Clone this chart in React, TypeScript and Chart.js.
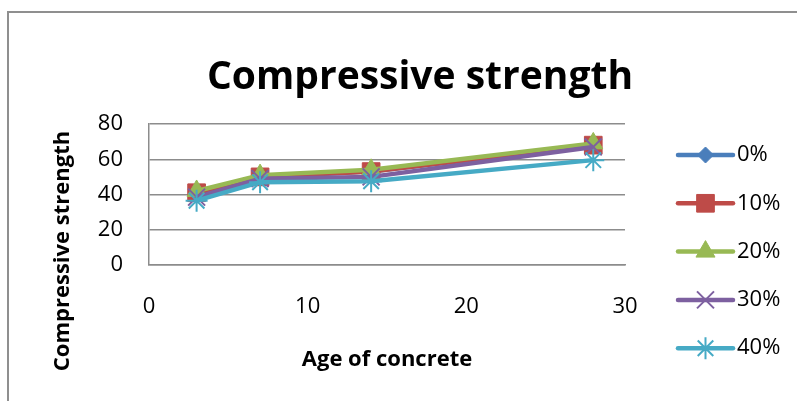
import React, { useEffect, useRef } from 'react';
import { Chart, registerables } from 'chart.js';
import { drawPoint } from 'chart.js/helpers';

Chart.register(...registerables);

// Age of concrete (days) and compressive strength per replacement level
const ageDays = [3, 7, 14, 28];
const strength0 = [40, 50, 53, 68];
const strength10 = [41, 50, 53, 68];
const strength20 = [42, 51, 54, 69];
const strength30 = [38.5, 49, 50, 67];
const strength40 = [36.5, 47, 47.5, 59.5];

const seriesLabels = ['0%', '10%', '20%', '30%', '40%'];
const seriesValues = [strength0, strength10, strength20, strength30, strength40];
const seriesColors = ['#4A7EBB', '#BE4B48', '#98B954', '#7D60A0', '#46AAC5'];
const seriesMarkers = ['rectRot', 'rect', 'triangle', 'crossRot', 'star'];
const markerRadius = [8, 12.5, 11, 12, 11];

const chartTitle = 'Compressive strength';
const xTitle = 'Age of concrete';
const yTitle = 'Compressive strength';

const FONT = '"Open Sans", "DejaVu Sans", sans-serif';
const AXIS_GRAY = '#8c8c8c';

// Main title, vertical axis title and the line+marker legend
const decorations = {
  id: 'decorations',
  afterDraw(chart: any) {
    const ctx = chart.ctx as CanvasRenderingContext2D;
    ctx.save();
    ctx.fillStyle = '#000';

    ctx.font = `bold 39px ${FONT}`;
    ctx.textAlign = 'center';
    ctx.textBaseline = 'alphabetic';
    ctx.fillText(chartTitle, 420, 89);

    ctx.save();
    ctx.translate(63, 251);
    ctx.rotate(-Math.PI / 2);
    ctx.font = `bold 22px ${FONT}`;
    ctx.textBaseline = 'middle';
    ctx.fillText(yTitle, 0, 0);
    ctx.restore();

    const x0 = 678;
    const x1 = 733;
    chart.data.datasets.forEach((ds: any, i: number) => {
      const y = 155 + i * 48.3;
      ctx.strokeStyle = ds.borderColor;
      ctx.lineWidth = 4.5;
      ctx.lineCap = 'round';
      ctx.beginPath();
      ctx.moveTo(x0, y);
      ctx.lineTo(x1, y);
      ctx.stroke();

      ctx.lineCap = 'butt';
      ctx.fillStyle = ds.pointBackgroundColor;
      ctx.strokeStyle = ds.pointBorderColor;
      ctx.lineWidth = ds.pointBorderWidth;
      drawPoint(
        ctx,
        { pointStyle: ds.pointStyle, radius: ds.pointRadius, rotation: 0, borderWidth: ds.pointBorderWidth },
        (x0 + x1) / 2,
        y
      );

      ctx.fillStyle = '#000';
      ctx.font = `22px ${FONT}`;
      ctx.textAlign = 'left';
      ctx.textBaseline = 'middle';
      ctx.fillText(ds.label, 737, y);
    });
    ctx.restore();
  },
};

export default function App() {
  const canvasRef = useRef<HTMLCanvasElement | null>(null);

  useEffect(() => {
    if (!canvasRef.current) return;
    const datasets = seriesLabels.map((label, i) => ({
      label,
      data: ageDays.map((d, k) => ({ x: d, y: seriesValues[i][k] })),
      borderColor: seriesColors[i],
      backgroundColor: seriesColors[i],
      borderWidth: 4.5,
      pointStyle: seriesMarkers[i],
      pointRadius: markerRadius[i],
      pointBackgroundColor: seriesColors[i],
      pointBorderColor: seriesColors[i],
      pointBorderWidth: i >= 3 ? 2 : 1,
      tension: 0,
      order: seriesLabels.length - i,
    }));

    const chart = new Chart(canvasRef.current, {
      type: 'line',
      data: { datasets },
      options: {
        animation: false,
        responsive: false,
        layout: { padding: { top: 124, right: 172, bottom: 0, left: 0 } },
        plugins: {
          legend: { display: false },
          tooltip: { enabled: false },
          title: { display: false },
        },
        scales: {
          x: {
            type: 'linear',
            min: 0,
            max: 30,
            ticks: {
              stepSize: 10,
              color: '#000',
              padding: 29,
              font: { family: FONT, size: 22 },
            },
            grid: { display: false, drawTicks: false },
            border: { display: true, color: AXIS_GRAY, width: 1.5 },
            title: {
              display: true,
              text: xTitle,
              color: '#000',
              font: { family: FONT, size: 22, weight: 'bold' },
              padding: { top: 0, bottom: 28 },
            },
            afterFit: (scale: any) => {
              scale.height = 136;
            },
          },
          y: {
            min: 0,
            max: 80,
            ticks: {
              stepSize: 20,
              color: '#000',
              padding: 26,
              font: { family: FONT, size: 22 },
            },
            grid: { color: AXIS_GRAY, lineWidth: 1.5, drawTicks: false },
            border: { display: true, color: AXIS_GRAY, width: 1.5 },
            afterFit: (scale: any) => {
              scale.width = 149;
            },
          },
        },
      },
      plugins: [decorations],
    });

    return () => chart.destroy();
  }, []);

  return (
    <div
      style={{
        position: 'fixed',
        left: 0,
        top: 0,
        width: 797,
        height: 401,
        overflow: 'hidden',
        background: '#fff',
      }}
    >
      <div
        style={{
          position: 'absolute',
          left: 7,
          top: 11,
          width: 840,
          height: 440,
          border: '2px solid #8f8f8f',
        }}
      />
      <canvas
        ref={canvasRef}
        width={797}
        height={401}
        style={{ position: 'absolute', left: 0, top: 0, width: 797, height: 401 }}
      />
    </div>
  );
}
